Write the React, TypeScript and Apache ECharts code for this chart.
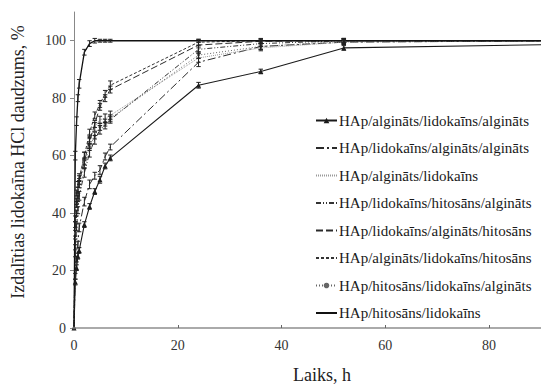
import React, { useEffect, useRef } from "react";
import * as echarts from "echarts";

const times = [0, 0.25, 0.5, 0.75, 1, 2, 3, 4, 5, 6, 7, 24, 36, 52, 96];

const seriesNames = [
  "HAp/algināts/lidokaīns/algināts",
  "HAp/lidokaīns/algināts/algināts",
  "HAp/algināts/lidokaīns",
  "HAp/lidokaīns/hitosāns/algināts",
  "HAp/lidokaīns/algināts/hitosāns",
  "HAp/algināts/lidokaīns/hitosāns",
  "HAp/hitosāns/lidokaīns/algināts",
  "HAp/hitosāns/lidokaīns",
];

const valsA = [0, 16, 21, 25, 27, 36, 42.3, 47.5, 51.6, 56.4, 59.2, 84.5, 89.3, 97.5, 98.8];
const valsB = [0, 18, 24, 29, 35, 44, 50, 53, 55, 59.7, 63, 92.5, 98, 99.5, 100];
const valsC = [0, 38, 47, 50, 52.5, 60, 66, 70, 72.5, 73, 74, 94, 97.5, 99.5, 100];
const valsD = [0, 26, 35, 41, 46, 54, 61, 65.5, 69, 70.5, 72.5, 97, 99, 100, 100];
const valsE = [0, 30, 40, 45, 51, 58, 65, 71, 77, 80, 83, 98.5, 99.8, 100, 100];
const valsF = [0, 36, 44, 48, 52, 60, 68, 74, 78, 81.5, 84.5, 99.5, 100, 100, 100];
const valsG = [0, 33, 43, 46, 50, 57, 63, 67, 70, 71.5, 73, 95, 98, 99.8, 100];
const valsH = [0, 60, 72, 80, 85, 96, 99, 100, 100, 100, 100, 100, 100, 100, 100];

const errA = [0, 1, 1, 1, 1, 1, 1, 1, 1.2, 1, 1, 1, 0.8, 0.8, 0.8];
const errB = [0, 1, 1, 1.2, 1.5, 1.5, 1.5, 1.2, 1.5, 1.2, 1, 1.5, 1, 0.8, 0.8];
const errC = [0, 1, 1, 1, 1.2, 1.2, 1.2, 1.5, 1.2, 1.5, 1.5, 1.5, 1, 0.8, 0.8];
const errD = [0, 1.2, 1.2, 1.2, 1.5, 1.5, 1.5, 1.5, 1.5, 1.2, 1.2, 1.2, 1, 0.8, 0.8];
const errE = [0, 1, 1, 1, 1, 1.2, 1.2, 1.2, 1.2, 1.2, 1.2, 1, 0.8, 0.8, 0.8];
const errF = [0, 1, 1, 1, 1, 1.2, 1.2, 1.2, 1.2, 1.2, 1.5, 1, 0.8, 0.8, 0.8];
const errG = [0, 1, 1, 1, 1.2, 1.2, 1.2, 1.2, 1.2, 1.2, 1.2, 1.2, 1, 0.8, 0.8];
const errH = [0, 1.5, 1.5, 1.2, 1.5, 1, 1, 0.8, 0.5, 0.5, 0.5, 0.5, 0.5, 0.5, 0.5];

const yTicks = [0, 20, 40, 60, 80, 100];
const xTicks = [0, 20, 40, 60, 80];

const FONT = "'Liberation Serif', 'Times New Roman', serif";

export default function App() {
  const ref = useRef<HTMLDivElement>(null);

  useEffect(() => {
    if (!ref.current) return;
    const chart = echarts.init(ref.current, undefined, { renderer: "svg" });

    const allVals = [valsA, valsB, valsC, valsD, valsE, valsF, valsG, valsH];
    const allErr = [errA, errB, errC, errD, errE, errF, errG, errH];
    const styles: any[] = [
      { color: "#1a1a1a", type: "solid", width: 1.1, symbol: "triangle", symbolSize: 5 },
      { color: "#2a2a2a", type: [8, 3, 2, 3], width: 1, symbol: "none", symbolSize: 0 },
      { color: "#9a9a9a", type: [1, 1], width: 1, symbol: "none", symbolSize: 0 },
      { color: "#333", type: [5, 2, 1, 2, 1, 2], width: 1, symbol: "none", symbolSize: 0 },
      { color: "#2a2a2a", type: [7, 3], width: 1, symbol: "none", symbolSize: 0 },
      { color: "#333", type: [3, 2], width: 1, symbol: "none", symbolSize: 0 },
      { color: "#666", type: [1, 2], width: 1, symbol: "circle", symbolSize: 3 },
      { color: "#111", type: "solid", width: 1.3, symbol: "none", symbolSize: 0 },
    ];

    const xMax = 90;

    const lineSeries = seriesNames.map((name, i) => ({
      name,
      type: "line",
      data: times.map((t, j) => [t, allVals[i][j]]),
      symbol: styles[i].symbol,
      symbolSize: styles[i].symbolSize,
      showSymbol: styles[i].symbol !== "none",
      itemStyle: { color: styles[i].color },
      lineStyle: { color: styles[i].color, type: styles[i].type, width: styles[i].width },
      clip: true,
      z: 3,
    }));

    const errSeries = seriesNames.map((name, i) => ({
      type: "custom",
      name: "err" + i,
      data: times
        .map((t, j) => [t, allVals[i][j], allErr[i][j]])
        .filter((d) => d[0] <= xMax && d[2] > 0),
      renderItem: (params: any, api: any) => {
        const x = api.value(0);
        const y = api.value(1);
        const e = api.value(2);
        const top = api.coord([x, y + e]);
        const bot = api.coord([x, y - e]);
        const hw = 2.2;
        const st = { stroke: "#222", lineWidth: 1 };
        return {
          type: "group",
          children: [
            { type: "line", shape: { x1: top[0], y1: top[1], x2: bot[0], y2: bot[1] }, style: st },
            { type: "line", shape: { x1: top[0] - hw, y1: top[1], x2: top[0] + hw, y2: top[1] }, style: st },
            { type: "line", shape: { x1: bot[0] - hw, y1: bot[1], x2: bot[0] + hw, y2: bot[1] }, style: st },
          ],
        };
      },
      z: 4,
      silent: true,
    }));

    const legendData = seriesNames.map((name, i) =>
      styles[i].symbol === "none"
        ? { name, itemStyle: { opacity: 0, color: "transparent", borderWidth: 0 } }
        : { name }
    );

    chart.setOption({
      animation: false,
      backgroundColor: "#fff",
      grid: { left: 74, right: -4, top: 12, bottom: 58 },
      xAxis: {
        type: "value",
        min: 0,
        max: xMax,
        interval: 20,
        axisLine: { show: true, lineStyle: { color: "#aaa", width: 2 } },
        axisTick: { show: true, inside: true, length: 3, lineStyle: { color: "#666" } },
        splitLine: { show: false },
        axisLabel: {
          showMaxLabel: false,
          fontFamily: FONT,
          fontSize: 14,
          color: "#333",
          margin: 10,
          formatter: (v: number) => (xTicks.includes(v) ? String(v) : ""),
        },
      },
      yAxis: {
        type: "value",
        min: 0,
        max: 110,
        interval: 20,
        axisLine: { show: true, lineStyle: { color: "#888", width: 1 } },
        axisTick: { show: true, inside: false, length: 4, lineStyle: { color: "#888" } },
        splitLine: { show: false },
        axisLabel: {
          showMaxLabel: false,
          fontFamily: FONT,
          fontSize: 14,
          color: "#333",
          margin: 8,
          formatter: (v: number) => (yTicks.includes(v) ? String(v) : ""),
        },
      },
      legend: {
        data: legendData,
        orient: "vertical",
        left: 315,
        top: 113,
        padding: 0,
        itemWidth: 21,
        itemHeight: 7,
        itemGap: 12.5,
        textStyle: { fontFamily: FONT, fontSize: 15, color: "#1a1a1a", padding: [0, 0, 0, -3] },
      },
      graphic: [
        {
          type: "text",
          x: 18,
          y: 162,
          rotation: Math.PI / 2,
          style: {
            text: "Izdalītias lidokaīna HCl daudzums, %",
            fontFamily: FONT,
            fontSize: 18,
            fill: "#222",
            textAlign: "center",
            textVerticalAlign: "middle",
          },
        },
        {
          type: "text",
          x: 322,
          y: 375,
          style: {
            text: "Laiks, h",
            fontFamily: FONT,
            fontSize: 18,
            fill: "#222",
            textAlign: "center",
            textVerticalAlign: "middle",
          },
        },
      ],
      series: [...lineSeries, ...errSeries],
    });

    return () => chart.dispose();
  }, []);

  return (
    <div
      ref={ref}
      style={{ position: "absolute", left: 0, top: 0, width: 541, height: 386, background: "#fff" }}
    />
  );
}
